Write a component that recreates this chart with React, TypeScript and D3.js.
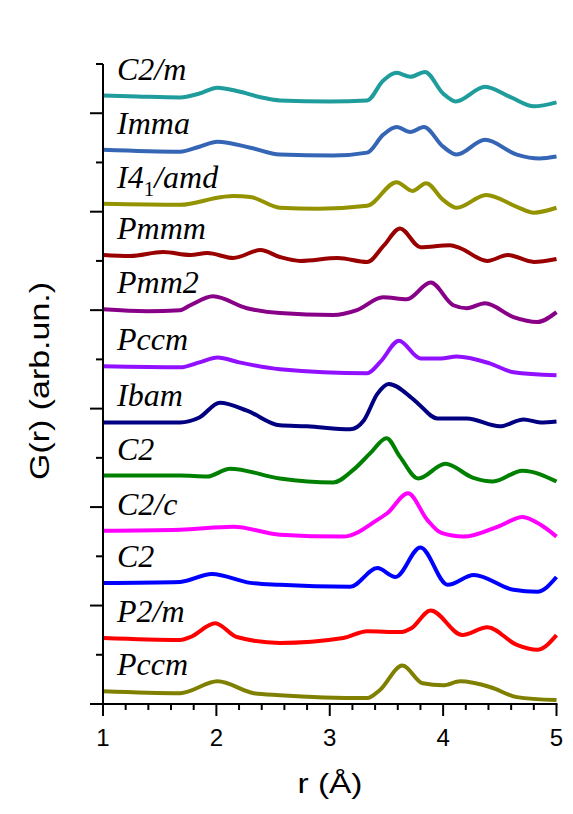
import React from "react";
import * as d3 from "d3";

type Pt = [number, number];

const labels = ["C2/m", "Imma", "I4_1/amd", "Pmmm", "Pmm2", "Pccm", "Ibam", "C2", "C2/c", "C2", "P2/m", "Pccm"];
const offsets = [618, 563, 508, 456, 401, 343, 286, 232, 176, 123, 67, 13];
const colors = ["#1f9c9c", "#3565b5", "#939300", "#990000", "#880088", "#9010ff", "#000080", "#008000", "#ff00ff", "#0000ff", "#ff0000", "#808000"];

const sC2m: Pt[] = [[1,0],[1.3,-1],[1.68,-2],[1.85,2],[2.01,8],[2.2,4],[2.4,-2],[2.56,-5],[3.0,-6],[3.33,-5],[3.47,15],[3.59,23],[3.71,19],[3.84,24],[4.0,2],[4.11,-6],[4.37,9],[4.6,-2],[4.8,-11],[5.0,-7]];
const sImma: Pt[] = [[1,0],[1.68,-2],[1.85,3],[2.01,8],[2.3,2],[2.56,-5],[3.03,-6],[3.33,-3],[3.47,15],[3.59,23],[3.71,18],[3.83,23],[4.0,3],[4.12,-5],[4.37,10],[4.65,-5],[4.85,-9],[5.0,-7]];
const sI41amd: Pt[] = [[1,0],[1.68,-1],[2.05,7],[2.15,8],[2.3,7],[2.56,-4],[2.9,-5],[3.33,-2],[3.59,22],[3.73,13],[3.85,21],[4.0,4],[4.12,-4],[4.38,9],[4.65,-3],[4.8,-9],[5.0,-4]];
const sPmmm: Pt[] = [[1,0],[1.24,-1],[1.53,3],[1.77,0],[1.92,2],[2.15,-3],[2.39,5],[2.56,-2],[2.74,-6],[3.07,-3],[3.33,-7],[3.48,10],[3.62,27],[3.8,8],[4.06,10],[4.15,7],[4.39,-6],[4.57,0],[4.8,-7],[5.0,-4]];
const sPmm2: Pt[] = [[1,0],[1.39,-2],[1.68,-1],[1.77,4],[1.97,13],[2.27,1],[2.56,-4],[3.03,-6],[3.24,-1],[3.47,12],[3.68,10],[3.89,27],[4.09,4],[4.21,1],[4.37,6],[4.62,-8],[4.83,-13],[5.0,-3]];
const sPccm1: Pt[] = [[1,0],[1.68,-1],[1.85,4],[2.01,9],[2.2,4],[2.56,-3],[3.33,-7],[3.45,5],[3.61,26],[3.8,8],[3.98,8],[4.12,10],[4.41,3],[4.62,-6],[5.0,-9]];
const sIbam: Pt[] = [[1,0],[1.68,0],[1.85,5],[2.03,20],[2.27,12],[2.56,-3],[2.8,-4],[3.18,-7],[3.3,2],[3.42,29],[3.52,39],[3.72,25],[3.78,19],[3.95,4],[4.21,4],[4.5,-4],[4.71,3],[4.86,0],[5.0,1]];
const sC2a: Pt[] = [[1,0],[1.68,0],[1.92,-1],[2.12,7],[2.56,-3],[3.03,-7],[3.21,6],[3.36,23],[3.5,38],[3.62,19],[3.78,-3],[4.02,12],[4.26,-2],[4.44,-6],[4.7,5],[5.0,-6]];
const sC2c: Pt[] = [[1,0],[1.68,1],[2.15,4],[2.56,-4],[3.12,-6],[3.42,11],[3.51,18],[3.69,38],[3.86,11],[3.98,-2],[4.18,-6],[4.5,5],[4.7,14],[4.86,6],[5.0,-6]];
const sC2b: Pt[] = [[1,0],[1.68,1],[1.96,9],[2.3,0],[2.56,-2],[3.18,-4],[3.42,15],[3.58,6],[3.8,36],[4.04,-2],[4.27,8],[4.62,-7],[4.83,-9],[5.0,6]];
const sP2m: Pt[] = [[1,0],[1.68,-2],[1.77,1],[1.99,15],[2.18,1],[2.56,-5],[3.12,0],[3.33,7],[3.62,6],[3.72,10],[3.89,28],[4.17,3],[4.39,11],[4.65,-7],[4.83,-12],[5.0,3]];
const sPccm2: Pt[] = [[1,0],[1.68,-2],[2.01,10],[2.33,-2],[2.56,-4],[3.33,-7],[3.44,1],[3.64,26],[3.82,8],[4.0,6],[4.15,10],[4.42,4],[4.65,-6],[5.0,-9]];

const series: Pt[][] = [sC2m, sImma, sI41amd, sPmmm, sPmm2, sPccm1, sIbam, sC2a, sC2c, sC2b, sP2m, sPccm2];

const xMajor = [1, 2, 3, 4, 5];

export default function App() {
  const W = 573, H = 814;
  const x = d3.scaleLinear().domain([1, 5]).range([103, 556.5]);
  const y = d3.scaleLinear().domain([0, 650]).range([704, 64]);
  const xMinor = d3.range(1, 5.0001, 0.2);
  const yTicks = d3.range(0, 651, 50);

  const sans = "Liberation Sans, Arial, sans-serif";
  const serif = "Times New Roman, Liberation Serif, DejaVu Serif, serif";

  return (
    <svg width={W} height={H} style={{ position: "absolute", left: 0, top: 0, background: "#fff" }}>
      {series.map((s, i) => {
        const line = d3.line<Pt>()
          .x(d => x(d[0]))
          .y(d => y(d[1] + offsets[i]))
          .curve(d3.curveMonotoneX);
        return <path key={i} d={line(s) || ""} fill="none" stroke={colors[i]} strokeWidth={4} strokeLinejoin="round" strokeLinecap="butt" />;
      })}
      {labels.map((lab, i) => {
        const parts = lab.split("_");
        const yy = y(offsets[i]) - 16;
        return (
          <text key={i} x={117} y={yy} fontFamily={serif} fontStyle="italic" fontSize={32} fill="#000">
            {parts.length === 1 ? lab : (
              <>
                <tspan>{parts[0]}</tspan>
                <tspan fontSize={21} dy={8} fontStyle="normal">{parts[1][0]}</tspan>
                <tspan dy={-8}>{parts[1].slice(1)}</tspan>
              </>
            )}
          </text>
        );
      })}
      {/* axes */}
      <line x1={x(1)} x2={x(1)} y1={y(650)} y2={y(0)} stroke="#000" strokeWidth={2} />
      <line x1={x(1)} x2={x(5) + 1} y1={y(0)} y2={y(0)} stroke="#000" strokeWidth={2} />
      {yTicks.map(t => (
        <line key={"yt" + t} x1={x(1) - (t % 100 === 0 ? 13 : 7)} x2={x(1)} y1={y(t)} y2={y(t)} stroke="#000" strokeWidth={2} />
      ))}
      {xMinor.map((t, i) => {
        const major = Math.abs(t - Math.round(t)) < 1e-6;
        return <line key={"xt" + i} x1={x(t)} x2={x(t)} y1={y(0)} y2={y(0) + (major ? 12 : 6)} stroke="#000" strokeWidth={2} />;
      })}
      {xMajor.map(t => (
        <text key={"xl" + t} x={x(t)} y={746} textAnchor="middle" fontFamily={sans} fontSize={24} fill="#000">{t}</text>
      ))}
      <text x={330} y={793} textAnchor="middle" fontFamily={sans} fontSize={28} textLength={65} lengthAdjust="spacingAndGlyphs" fill="#000">r (Å)</text>
      <text transform="translate(49,381) rotate(-90)" textAnchor="middle" fontFamily={sans} fontSize={28} textLength={198} lengthAdjust="spacingAndGlyphs" fill="#000">G(r) (arb.un.)</text>
    </svg>
  );
}
